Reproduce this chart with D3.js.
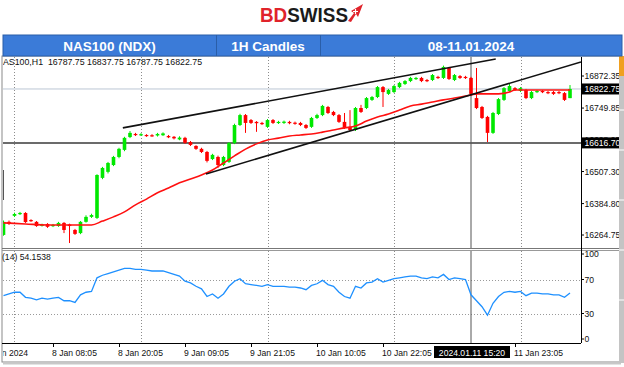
<!DOCTYPE html>
<html>
<head>
<meta charset="utf-8">
<script src="https://cdn.jsdelivr.net/npm/d3@7"></script>
<style>
  body { margin: 0; background: #fff; }
  svg { display: block; font-family: "Liberation Sans", Arial, sans-serif; }
</style>
</head>
<body>
<svg id="chart" width="624" height="367"></svg>
<script>
// ---- data (hourly NAS100 bars, index 0..103) ----
const opens = [16265,16315,16338,16345,16349,16322,16315,16300,16307,16299,
  16299,16311,16305,16284,16272,16315,16334,16330,16483,16506,
  16532,16563,16590,16639,16651,16647,16647,16646,16645,16646,
  16643,16640,16630,16636,16620,16605,16594,16582,16555,16563,
  16532,16544,16616,16685,16723,16704,16697,16693,16678,16704,
  16693,16693,16697,16694,16693,16685,16678,16712,16723,16754,
  16735,16723,16697,16678,16666,16750,16750,16781,16792,16830,
  16804,16811,16830,16842,16853,16861,16865,16857,16857,16869,
  16865,16903,16857,16872,16869,16865,16788,16754,16716,16655,
  16727,16781,16815,16826,16815,16819,16788,16811,16815,16811,
  16811,16811,16807,16787.75];
const closes = [16315,16307,16345,16349,16314,16318,16299,16304,16296,16303,
  16311,16284,16299,16269,16315,16334,16341,16494,16521,16540,
  16563,16594,16636,16655,16647,16650,16644,16643,16651,16653,
  16638,16634,16637,16617,16609,16594,16582,16548,16571,16532,
  16563,16616,16685,16723,16693,16693,16692,16689,16704,16693,
  16697,16698,16692,16690,16685,16674,16712,16723,16758,16731,
  16723,16697,16674,16666,16750,16735,16788,16792,16830,16811,
  16819,16834,16846,16853,16865,16865,16853,16853,16876,16865,
  16907,16861,16876,16865,16865,16804,16750,16712,16655,16731,
  16784,16826,16834,16819,16826,16788,16811,16815,16811,16807,
  16804,16807,16781,16822.75];
const highs = [16320,16320,16350,16353,16352,16325,16318,16308,16310,16307,
  16315,16314,16308,16288,16318,16340,16346,16497,16525,16544,
  16567,16598,16640,16662,16655,16654,16650,16650,16655,16657,
  16647,16643,16642,16640,16624,16608,16598,16586,16575,16568,
  16567,16620,16690,16728,16727,16708,16700,16697,16708,16708,
  16701,16702,16701,16698,16697,16689,16716,16728,16762,16758,
  16739,16727,16731,16742,16754,16762,16792,16796,16834,16834,
  16823,16838,16850,16857,16869,16869,16869,16861,16880,16873,
  16912,16907,16880,16876,16873,16869,16903,16758,16720,16735,
  16788,16830,16845,16830,16830,16823,16815,16819,16819,16815,
  16815,16815,16811,16837.75];
const lows = [16262,16303,16334,16341,16311,16315,16296,16297,16292,16295,
  16296,16272,16234,16265,16268,16312,16330,16326,16478,16500,
  16528,16558,16585,16635,16643,16643,16640,16640,16641,16643,
  16635,16630,16627,16613,16605,16590,16578,16542,16551,16521,
  16528,16540,16612,16681,16655,16689,16659,16685,16674,16689,
  16689,16689,16688,16686,16681,16670,16674,16708,16719,16727,
  16719,16693,16670,16662,16662,16731,16746,16777,16788,16754,
  16800,16807,16826,16838,16849,16857,16849,16849,16853,16861,
  16861,16857,16853,16861,16861,16796,16746,16708,16620,16651,
  16723,16777,16811,16815,16811,16784,16784,16807,16807,16803,
  16800,16803,16777,16787.75];

// red moving average, read at these bar indexes
const maIdx = [0,4,8,12,16,18,20,22,24,26,28,30,32,34,36,38,40,42,44,46,48,50,52,54,56,58,60,62,64,66,68,70,72,74,76,78,80,82,84,85,86,88,90,92,93,96,100,103];
const maVal = [16311,16307,16303,16303,16303,16318,16334,16353,16380,16402,16426,16444,16464,16479,16494,16513,16540,16567,16593,16613,16628,16635,16643,16647,16651,16658,16666,16674,16681,16700,16716,16727,16742,16758,16765,16773,16781,16788,16796,16800,16804,16804,16804,16811,16819,16819,16819,16819];

// RSI(14), one value per bar
const rsiVal = [51,53,55,55,49,48,46,48,47,48,
  49,45,45,43,52,55,56,72,75,77,
  79,81,83,83,82,82,81,80,80,80,
  78,76,74,68,66,62,59,50,53,48,
  53,62,68,71,65,64,63,62,64,62,
  62,62,61,61,60,58,63,65,69,64,
  62,55,50,48,62,60,66,67,71,67,
  69,71,72,73,74,74,72,71,73,72,
  76,70,72,71,70,52,45,38,28,42,
  50,55,56,55,56,51,54,54,53,53,
  52,52,49,54.15];

// drawn trendlines: [bar index, price]
const upperTrend = [[21.7, 16674], [89.5, 16937]];
const lowerTrend = [[36.8, 16498], [105, 16926]];
const hLevel = 16616.70;
const lastPrice = 16822.75;

const priceTicks = [16872.35, 16749.85, 16628.95, 16507.30, 16384.80, 16264.75];
const rsiTicks = [100, 70, 30, 0];
const gridIdx = [2, 25, 48, 71, 94];
const timeIdx = [9, 21, 33, 45, 57, 69, 93];
const timeLabels = ["8 Jan 08:05", "8 Jan 20:05", "9 Jan 09:05", "9 Jan 21:05",
  "10 Jan 10:05", "10 Jan 22:05", "11 Jan 23:05"];
const crossIdx = 85;
const crossLabel = "2024.01.11 15:20";
const headerCells = ["NAS100 (NDX)", "1H Candles", "08-11.01.2024"];

// ---- layout ----
const svg = d3.select("#chart");
const main = { left: 3, right: 581, top: 57, bottom: 248 };
const rsiP = { top: 251, bottom: 343 };

const x = d3.scaleLinear().domain([0, 103]).range([3.5, 570]);
const y = d3.scaleLinear().domain([16264.75, 16872.35]).range([235, 76]);
const yr = d3.scaleLinear().domain([0, 100]).range([339, 254]);

svg.append("rect").attr("width", 624).attr("height", 367).attr("fill", "#fff");

const defs = svg.append("defs");
defs.append("clipPath").attr("id", "clipMain").append("rect")
  .attr("x", main.left).attr("y", main.top)
  .attr("width", main.right - main.left).attr("height", main.bottom - main.top);
defs.append("clipPath").attr("id", "clipRsi").append("rect")
  .attr("x", main.left).attr("y", rsiP.top)
  .attr("width", main.right - main.left).attr("height", rsiP.bottom - rsiP.top);
defs.append("clipPath").attr("id", "clipAxis").append("rect")
  .attr("x", 0).attr("y", 56).attr("width", 619).attr("height", 306);
defs.append("clipPath").attr("id", "clipLeft").append("rect")
  .attr("x", 3).attr("y", 0).attr("width", 620).attr("height", 367);

// frame
svg.append("rect").attr("x", 2).attr("y", 56).attr("width", 618).attr("height", 306)
  .attr("fill", "none").attr("stroke", "#8a8a8a");
svg.append("line").attr("x1", 3).attr("x2", 621).attr("y1", 363.5).attr("y2", 363.5)
  .attr("stroke", "#c8c8c8").attr("stroke-width", 2);
// panel separator
svg.append("line").attr("x1", 2).attr("x2", 619).attr("y1", 248.5).attr("y2", 248.5).attr("stroke", "#777");
svg.append("line").attr("x1", 2).attr("x2", 619).attr("y1", 250.5).attr("y2", 250.5).attr("stroke", "#999");
// axis borders
svg.append("line").attr("x1", main.right + 0.5).attr("x2", main.right + 0.5)
  .attr("y1", main.top).attr("y2", rsiP.bottom).attr("stroke", "#000");
svg.append("line").attr("x1", 2).attr("x2", main.right).attr("y1", rsiP.bottom + 0.5).attr("y2", rsiP.bottom + 0.5)
  .attr("stroke", "#000");
// right scroll strip
svg.append("rect").attr("x", 619).attr("y", 56).attr("width", 5).attr("height", 307).attr("fill", "#c4c4c4");
svg.append("rect").attr("x", 619).attr("y", 56).attr("width", 5).attr("height", 20).attr("fill", "#f0a020");
svg.selectAll(".strip").data([110, 150, 200, 250, 300]).enter().append("line")
  .attr("x1", 619).attr("x2", 624).attr("y1", d => d).attr("y2", d => d).attr("stroke", "#fff");

// ---- main panel ----
const gm = svg.append("g").attr("clip-path", "url(#clipMain)");

gm.selectAll(".vgrid").data(gridIdx).enter().append("line")
  .attr("x1", d => Math.round(x(d)) + 0.5).attr("x2", d => Math.round(x(d)) + 0.5)
  .attr("y1", main.top).attr("y2", main.bottom)
  .attr("stroke", "#8c8c8c").attr("stroke-dasharray", "1,2");

gm.append("line").attr("x1", main.left).attr("x2", main.right)
  .attr("y1", y(lastPrice)).attr("y2", y(lastPrice)).attr("stroke", "#bcc6d4");

gm.append("line").attr("x1", main.left).attr("x2", main.right)
  .attr("y1", y(hLevel)).attr("y2", y(hLevel)).attr("stroke", "#3a3a3a").attr("stroke-width", 1.5);

gm.append("line").attr("x1", x(crossIdx)).attr("x2", x(crossIdx))
  .attr("y1", main.top).attr("y2", main.bottom).attr("stroke", "#555");

const bars = d3.range(opens.length);
const up = i => closes[i] >= opens[i];
const col = i => up(i) ? "#00e800" : "#ff0000";

gm.selectAll(".wick").data(bars).enter().append("line")
  .attr("x1", i => x(i)).attr("x2", i => x(i))
  .attr("y1", i => y(highs[i])).attr("y2", i => y(lows[i]))
  .attr("stroke", col).attr("stroke-width", 1);

gm.selectAll(".body").data(bars).enter().append("rect")
  .attr("x", i => x(i) - 1.8).attr("width", 3.6)
  .attr("y", i => y(Math.max(opens[i], closes[i])))
  .attr("height", i => Math.max(1.2, Math.abs(y(opens[i]) - y(closes[i]))))
  .attr("fill", col);

const maLine = d3.line().x((d, k) => x(maIdx[k])).y(d => y(d)).curve(d3.curveMonotoneX);
gm.append("path").attr("d", maLine(maVal)).attr("fill", "none")
  .attr("stroke", "#ff1010").attr("stroke-width", 1.6);

const tl = d3.line().x(d => x(d[0])).y(d => y(d[1]));
[upperTrend, lowerTrend].forEach(t => {
  gm.append("path").attr("d", tl(t)).attr("stroke", "#111").attr("stroke-width", 1.6).attr("fill", "none");
});

// scroll marker at left edge
svg.append("line").attr("x1", 3.5).attr("x2", 3.5).attr("y1", 170).attr("y2", 200)
  .attr("stroke", "#555").attr("stroke-width", 1);

svg.append("text").attr("clip-path", "url(#clipLeft)")
  .attr("x", -3.4).attr("y", 64.5).attr("font-size", 8.8).attr("fill", "#111")
  .attr("xml:space", "preserve")
  .text("NAS100,H1  16787.75 16837.75 16787.75 16822.75");

// ---- price axis ----
const ga = svg.append("g").attr("clip-path", "url(#clipAxis)");
ga.selectAll(".pt").data(priceTicks).enter().append("line")
  .attr("x1", main.right).attr("x2", main.right + 3)
  .attr("y1", d => y(d)).attr("y2", d => y(d)).attr("stroke", "#000");
ga.selectAll(".pl").data(priceTicks).enter().append("text")
  .attr("x", 584.5).attr("y", d => y(d) + 3).attr("font-size", 8.6).attr("fill", "#111")
  .text(d => d.toFixed(2));

[lastPrice, hLevel].forEach(v => {
  ga.append("rect").attr("x", 582).attr("y", y(v) - 5.5).attr("width", 40).attr("height", 11).attr("fill", "#000");
  ga.append("text").attr("x", 584.5).attr("y", y(v) + 3).attr("font-size", 8.6).attr("fill", "#fff")
    .text(v.toFixed(2));
});

// ---- RSI panel ----
const gr = svg.append("g").attr("clip-path", "url(#clipRsi)");
gr.selectAll(".vgrid").data(gridIdx).enter().append("line")
  .attr("x1", d => Math.round(x(d)) + 0.5).attr("x2", d => Math.round(x(d)) + 0.5)
  .attr("y1", rsiP.top).attr("y2", rsiP.bottom)
  .attr("stroke", "#8c8c8c").attr("stroke-dasharray", "1,2");
gr.selectAll(".lvl").data([70, 30]).enter().append("line")
  .attr("x1", main.left).attr("x2", main.right)
  .attr("y1", d => Math.round(yr(d)) + 0.5).attr("y2", d => Math.round(yr(d)) + 0.5)
  .attr("stroke", "#9a9a9a").attr("stroke-dasharray", "1,2");
gr.append("line").attr("x1", x(crossIdx)).attr("x2", x(crossIdx))
  .attr("y1", rsiP.top).attr("y2", rsiP.bottom).attr("stroke", "#555");
gr.append("path").attr("d", d3.line().x((d, i) => x(i)).y(d => yr(d))(rsiVal))
  .attr("fill", "none").attr("stroke", "#1e90ff").attr("stroke-width", 1.3);

svg.append("text").attr("x", 2).attr("y", 259.5).attr("font-size", 8.6).attr("fill", "#111")
  .text("(14) 54.1538");

ga.selectAll(".rl").data(rsiTicks).enter().append("text")
  .attr("x", 584.5).attr("y", d => yr(d) + 3).attr("font-size", 8.6).attr("fill", "#111")
  .text(d => d);
ga.selectAll(".rt").data(rsiTicks).enter().append("line")
  .attr("x1", main.right).attr("x2", main.right + 3)
  .attr("y1", d => yr(d)).attr("y2", d => yr(d)).attr("stroke", "#000");

// ---- time axis ----
svg.selectAll(".tt").data(timeIdx).enter().append("line")
  .attr("x1", d => Math.round(x(d)) + 0.5).attr("x2", d => Math.round(x(d)) + 0.5)
  .attr("y1", rsiP.bottom).attr("y2", rsiP.bottom + 4).attr("stroke", "#000");
svg.selectAll(".tl").data(timeIdx).enter().append("text")
  .attr("x", d => x(d) - 1).attr("y", 355.5).attr("font-size", 8.6).attr("fill", "#111")
  .text((d, i) => timeLabels[i]);
svg.append("text").attr("clip-path", "url(#clipLeft)")
  .attr("x", 28).attr("y", 355.5).attr("text-anchor", "end").attr("font-size", 8.6).attr("fill", "#111")
  .text("8 Jan 2024");
svg.append("rect").attr("x", x(crossIdx) - 37).attr("y", 346).attr("width", 76).attr("height", 12).attr("fill", "#000");
svg.append("text").attr("x", x(crossIdx) + 1).attr("y", 355.5).attr("text-anchor", "middle")
  .attr("font-size", 8.6).attr("fill", "#fff").text(crossLabel);

// ---- header ----
const cellEdges = [3, 216, 320, 622];
const hd = svg.append("g");
hd.append("rect").attr("x", 3).attr("y", 35).attr("width", 619).attr("height", 21)
  .attr("fill", "#3b7bd8").attr("stroke", "#2a5ea8").attr("stroke-width", 1);
hd.selectAll(".hdiv").data(cellEdges.slice(1, 3)).enter().append("line")
  .attr("x1", d => d + 0.5).attr("x2", d => d + 0.5).attr("y1", 35).attr("y2", 56)
  .attr("stroke", "#2a5ea8");
hd.selectAll(".htxt").data(headerCells).enter().append("text")
  .attr("x", (d, i) => (cellEdges[i] + cellEdges[i + 1]) / 2).attr("y", 50.5)
  .attr("text-anchor", "middle").attr("font-size", 13.5).attr("font-weight", "bold")
  .attr("fill", "#fff").text(d => d);

// logo
const logo = svg.append("text").attr("x", 260).attr("y", 22).attr("font-size", 20)
  .attr("font-weight", "bold").attr("textLength", 88).attr("lengthAdjust", "spacingAndGlyphs");
logo.append("tspan").attr("fill", "#e0232b").text("BD");
logo.append("tspan").attr("fill", "#1b1b1b").text("SWISS");
svg.append("path").attr("d", "M348,21 L354,13 L351,11 L363,4 L358,17 L356,14 L351,22 Z").attr("fill", "#e0232b");
svg.append("path").attr("d", "M355.5,9 v5 M353,11.5 h5").attr("stroke", "#fff").attr("stroke-width", 1.2);
</script>
</body>
</html>
